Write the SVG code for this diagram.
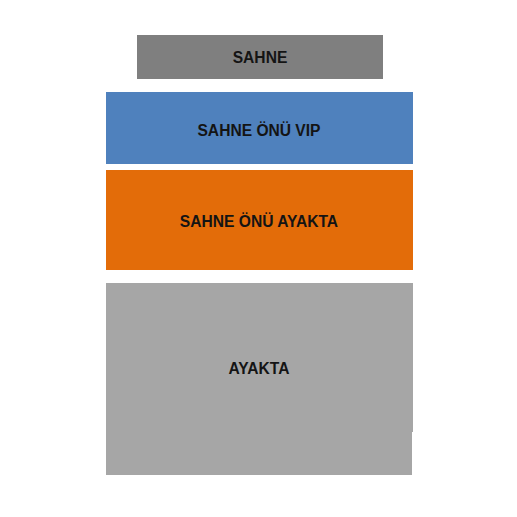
<svg xmlns="http://www.w3.org/2000/svg" width="517" height="517" viewBox="0 0 517 517">
<style>
text{font-family:"Liberation Sans",Arial,sans-serif;font-weight:bold;font-size:15.6px;fill:#141414;text-anchor:middle}
</style>
<rect width="517" height="517" fill="#ffffff"/>
<g id="sahne">
<rect x="137" y="35" width="246" height="44" fill="#7f7f7f"/>
<text x="260" y="62.5">SAHNE</text>
</g>
<g id="sahne-onu-vip">
<rect x="106" y="92" width="307" height="72" fill="#4f81bd"/>
<text x="259" y="135.5">SAHNE ÖNÜ VIP</text>
</g>
<g id="sahne-onu-ayakta">
<rect x="106" y="170" width="307" height="100" fill="#e36c09"/>
<text x="259" y="227">SAHNE ÖNÜ AYAKTA</text>
</g>
<g id="ayakta">
<path d="M106 283H413V432H412V475H106Z" fill="#a6a6a6"/>
<text x="259" y="374">AYAKTA</text>
</g>
</svg>
